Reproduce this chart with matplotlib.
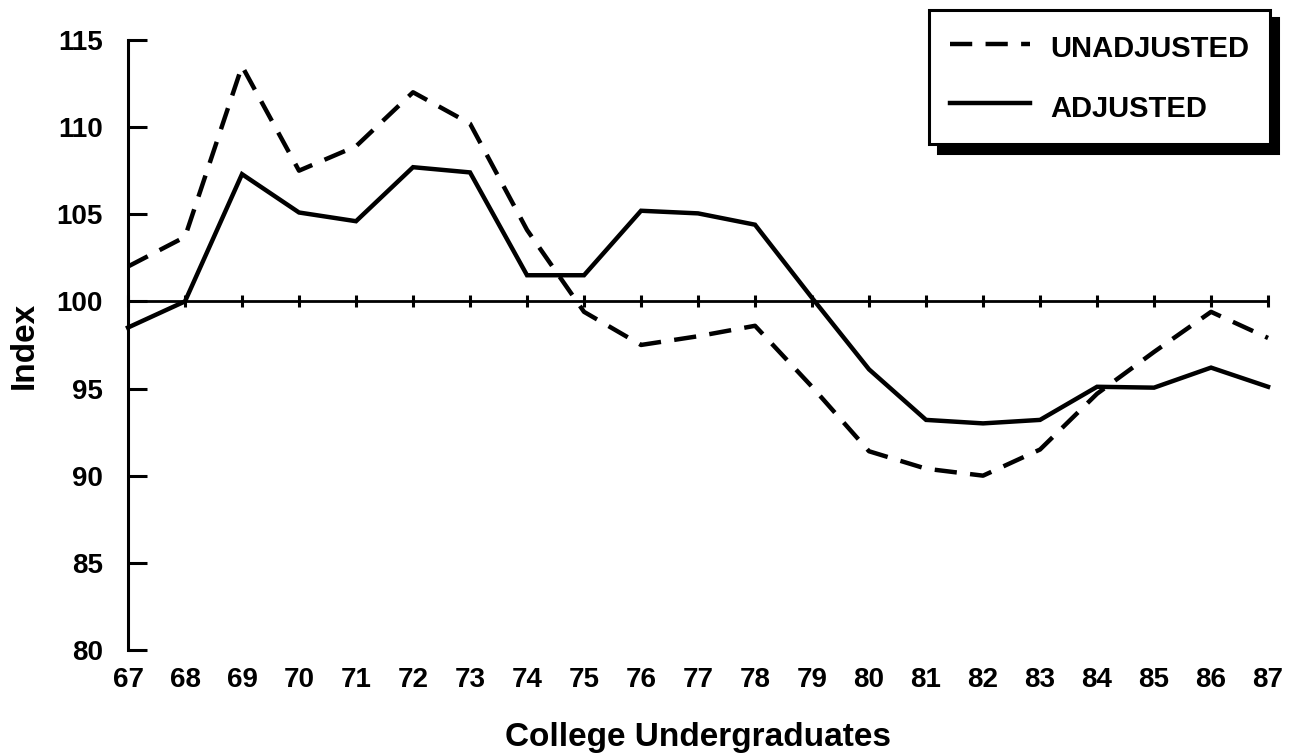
import numpy as np
import matplotlib
matplotlib.use("Agg")
from matplotlib import pyplot as plt
from matplotlib.lines import Line2D

# years shown as two digits on the axis
years = list(range(67, 88))
year_labels = [str(y) for y in years]

# index values
unadjusted = [102.0, 103.7, 113.5, 107.5, 108.9, 112.0, 110.2, 104.1, 99.4, 97.5, 98.0,
              98.6, 95.1, 91.4, 90.4, 90.0, 91.5, 94.7, 97.1, 99.4, 97.9]
adjusted = [98.5, 100.0, 107.3, 105.1, 104.6, 107.7, 107.4, 101.5, 101.5, 105.2, 105.05,
            104.4, 100.2, 96.1, 93.2, 93.0, 93.2, 95.1, 95.05, 96.2, 95.1]
baseline = 100
y_ticks = [80, 85, 90, 95, 100, 105, 110, 115]

plt.rcParams['font.family'] = ['Liberation Sans', 'DejaVu Sans']
plt.rcParams['font.weight'] = 'bold'


def main():
    fig = plt.figure(figsize=(12.93, 7.54), dpi=100)
    ax = fig.add_axes([0.099, 0.138, 0.8817, 0.809])

    # reference line at 100 with small year marks
    ax.plot(years, [baseline] * len(years), color='k', lw=2.0, clip_on=False,
            marker='|', markersize=9, markeredgewidth=2.2, zorder=2)

    ax.plot(years, unadjusted, color='k', lw=3.2, dashes=(5, 3),
            clip_on=False, zorder=3, solid_joinstyle='miter')
    ax.plot(years, adjusted, color='k', lw=3.2, clip_on=False, zorder=3,
            solid_joinstyle='miter')

    ax.set_xlim(67, 87)
    ax.set_ylim(80, 115)

    for side in ['top', 'right', 'bottom']:
        ax.spines[side].set_visible(False)
    ax.spines['left'].set_linewidth(2.2)

    ax.set_yticks(y_ticks)
    ax.set_yticklabels([str(v) for v in y_ticks])
    ax.tick_params(axis='y', direction='in', length=14, width=2.2, pad=18, labelsize=20)
    ax.set_xticks(years)
    ax.set_xticklabels(year_labels)
    ax.tick_params(axis='x', length=0, pad=12, labelsize=20)
    for lab in ax.get_xticklabels() + ax.get_yticklabels():
        lab.set_fontweight('bold')

    ax.set_ylabel('Index', fontsize=24, fontweight='bold', labelpad=12)
    ax.set_xlabel('College Undergraduates', fontsize=24, fontweight='bold', labelpad=21)

    handles = [Line2D([], [], color='k', lw=3.2, dashes=(5, 3)),
               Line2D([], [], color='k', lw=3.2)]
    leg = fig.legend(handles, ['UNADJUSTED', 'ADJUSTED'], loc='upper right',
                     bbox_to_anchor=(0.982, 0.987), borderaxespad=0, fontsize=21,
                     frameon=True, fancybox=False, handlelength=2.75,
                     handletextpad=0.68, handleheight=1.39, borderpad=0.71,
                     labelspacing=0.9,
                     shadow={'ox': 6, 'oy': -6, 'color': 'k', 'alpha': 1})
    leg.get_frame().set_edgecolor('k')
    leg.get_frame().set_linewidth(2.2)
    for t in leg.get_texts():
        t.set_fontweight('bold')

    fig.savefig('out.png', dpi=100)


if __name__ == '__main__':
    main()
